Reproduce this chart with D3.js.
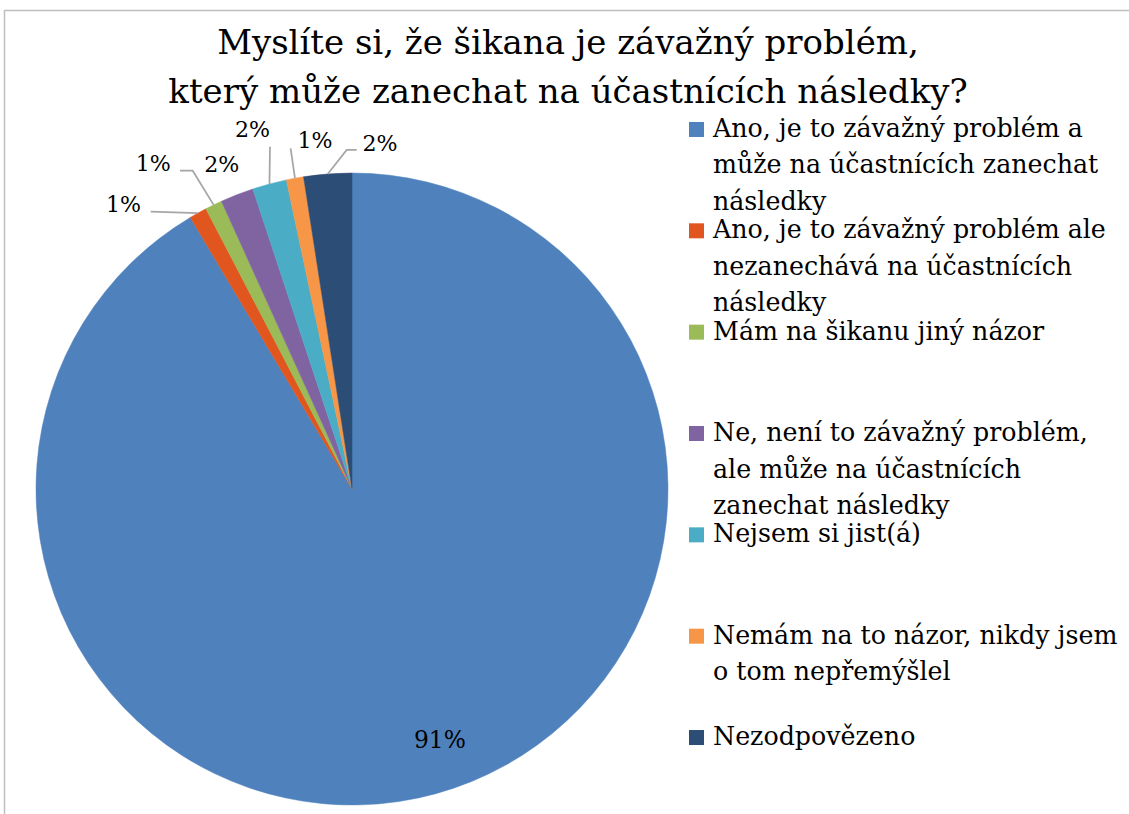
<!DOCTYPE html>
<html>
<head>
<meta charset="utf-8">
<script src="https://cdn.jsdelivr.net/npm/d3@7"></script>
<style>
  html, body { margin: 0; padding: 0; background: #ffffff; }
  svg { display: block; }
</style>
</head>
<body>
<svg id="chart" width="1129" height="814"></svg>
<script>
// ---- data ----
const titleLines = ["Myslíte si, že šikana je závažný problém,", "který může zanechat na účastnících následky?"];
const categories = [
  "Ano, je to závažný problém a může na účastnících zanechat následky",
  "Ano, je to závažný problém ale nezanechává na účastnících následky",
  "Mám na šikanu jiný názor",
  "Ne, není to závažný problém, ale může na účastnících zanechat následky",
  "Nejsem si jist(á)",
  "Nemám na to názor, nikdy jsem o tom nepřemýšlel",
  "Nezodpovězeno"
];
const shares = [91.45, 0.9, 0.87, 1.7, 1.75, 0.88, 2.45];
const colors = ["#4F81BD", "#E1561F", "#9BBB59", "#8064A2", "#4BACC6", "#F79646", "#2C4D75"];

// ---- font: serif look, sized to Times-like metrics ----
const FONT = '"DejaVu Serif", serif';
const REF_FONT = '"Liberation Serif", "Times New Roman"';
const ctx = document.createElement("canvas").getContext("2d");
const sample = "který může zanechat na účastnících následky? Nezodpovězeno 91%";
ctx.font = `100px ${REF_FONT}`; const wRef = ctx.measureText(sample).width;
ctx.font = `100px ${FONT}`; const wDej = ctx.measureText(sample).width;
const k = Math.min(1, wRef / wDej);

// ---- layout (positions of labels relative to their slice anchor) ----
const cx = 352, cy = 489, R = 316;
const labelLayout = [
  { dx: 46, dy: 107, leader: [] },
  { dx: -74.5, dy: -1, leader: [[-47.3, -1.3]] },
  { dx: -60.3, dy: -34.2, leader: [[-20.9, -34.2], [-33.6, -34.2]] },
  { dx: -15.3, dy: -23, leader: [] },
  { dx: -17, dy: -46.7, leader: [[0.5, -37.3]] },
  { dx: 20, dy: -29.9, leader: [[-4.3, -29.9]] },
  { dx: 52.3, dy: -23.3, leader: [[19, -24], [29, -24]] }
];

const svg = d3.select("#chart").style("font-family", FONT);

// frame
svg.append("rect")
  .attr("x", 4.5).attr("y", 10.5).attr("width", 1140).attr("height", 820)
  .attr("fill", "none").attr("stroke", "#bfbfbf").attr("stroke-width", 1.5);

// title
svg.append("g").selectAll("text").data(titleLines).join("text")
  .attr("x", 568).attr("y", (d, i) => 54.3 + i * 48.4)
  .attr("text-anchor", "middle")
  .attr("font-family", FONT)
  .attr("font-size", 43 * k)
  .attr("fill", "#000")
  .text(d => d);

// pie
const data = categories.map((c, i) => ({ cat: c, value: shares[i], color: colors[i], i }));
const total = d3.sum(shares);
const pie = d3.pie().sort(null).value(d => d.value).startAngle(0).endAngle(2 * Math.PI);
const arcs = pie(data);
const arc = d3.arc().innerRadius(0).outerRadius(R);

const g = svg.append("g").attr("transform", `translate(${cx},${cy})`);
g.selectAll("path").data(arcs).join("path")
  .attr("d", arc)
  .attr("fill", d => d.data.color)
  .attr("stroke", d => d.data.color)
  .attr("stroke-width", 0.5);

// labels
const fmt = v => Math.round(v / total * 100) + "%";
arcs.forEach((a, i) => {
  const lay = labelLayout[i];
  const mid = (a.startAngle + a.endAngle) / 2;
  const anchor = i === 0 ? arc.centroid(a) : [R * Math.sin(mid), -R * Math.cos(mid)];
  const lx = anchor[0] + lay.dx, ly = anchor[1] + lay.dy;
  if (lay.leader.length) {
    const pts = [anchor].concat(lay.leader.map(p => [anchor[0] + p[0], anchor[1] + p[1]]));
    g.append("path")
      .attr("d", d3.line()(pts))
      .attr("fill", "none")
      .attr("stroke", "#a6a6a6")
      .attr("stroke-width", 1.75);
  }
  g.append("text")
    .attr("x", lx).attr("y", ly)
    .attr("text-anchor", "middle")
    .attr("font-family", FONT)
    .attr("font-size", (i === 0 ? 29.5 : 28) * k)
    .attr("fill", "#000")
    .text(fmt(a.data.value));
});

// legend
const legendX = 689, textX = 713, maxW = 412, fs = 32 * k, lineH = 36.5;
const ly = d3.scaleBand().domain(categories).range([137 - 50.7, 745 + 50.7]);
const measure = svg.append("text").attr("font-size", fs).attr("font-family", FONT).attr("visibility", "hidden");
function wrap(str) {
  const words = str.split(" ");
  const lines = [];
  let cur = "";
  words.forEach(w => {
    const test = cur ? cur + " " + w : w;
    measure.text(test);
    if (measure.node().getComputedTextLength() > maxW && cur) {
      lines.push(cur);
      cur = w;
    } else {
      cur = test;
    }
  });
  if (cur) lines.push(cur);
  return lines;
}
const leg = svg.append("g");
categories.forEach((c, i) => {
  const base = ly(c) + ly.bandwidth() / 2;
  leg.append("rect")
    .attr("x", legendX).attr("y", base - 15)
    .attr("width", 15).attr("height", 15)
    .attr("fill", colors[i]);
  const t = leg.append("text").attr("x", textX).attr("y", base)
    .attr("font-size", fs).attr("font-family", FONT).attr("fill", "#000");
  wrap(c).forEach((line, j) => {
    t.append("tspan").attr("x", textX).attr("y", base + j * lineH).text(line);
  });
});
measure.remove();
</script>
</body>
</html>
